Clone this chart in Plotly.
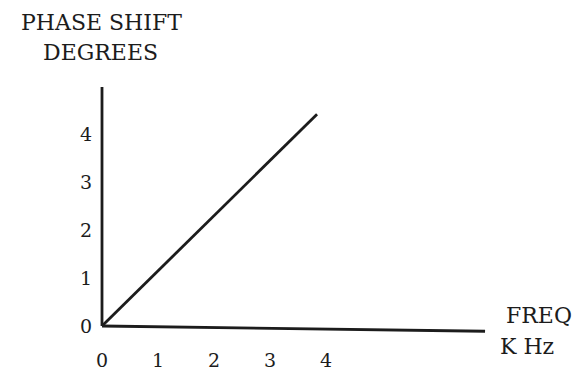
import plotly.graph_objects as go

# Phase shift vs frequency (linear-phase response)
freq_khz = [0, 3.84]
phase_deg = [0, 4.43]

x_ticks = [0, 1, 2, 3, 4]
y_ticks = [0, 1, 2, 3, 4]

W, H = 582, 371
M = dict(l=95, r=20, t=70, b=30)
INK = "#1c1c1c"
FONT = "DejaVu Serif"
X_UNIT, Y_UNIT = 56.0, 47.8      # pixels per data unit
X0_PX, Y0_PX = 102, 326          # origin position


def paper_x(px):
    return (px - M["l"]) / (W - M["l"] - M["r"])


def paper_y(py):
    return (H - M["b"] - py) / (H - M["t"] - M["b"])


fig = go.Figure()
fig.add_trace(go.Scatter(
    x=freq_khz, y=phase_deg, mode="lines",
    line=dict(color=INK, width=2.8), hoverinfo="skip", showlegend=False,
))

# hand-drawn axes
fig.add_shape(type="line", x0=0, y0=0, x1=0, y1=5.0,
              line=dict(color=INK, width=2.8))
fig.add_shape(type="line", x0=0, y0=0, x1=6.84, y1=-0.11,
              line=dict(color=INK, width=2.8))

labels = [
    ("PHASE SHIFT", 101, 23),
    ("DEGREES", 100, 53),
    ("FREQ", 539, 315),
    ("K Hz", 527, 346),
]
for text, px, py in labels:
    fig.add_annotation(
        text=text, x=paper_x(px), y=paper_y(py), xref="paper", yref="paper",
        xanchor="center", yanchor="middle", showarrow=False,
        font=dict(family=FONT, size=22, color=INK),
    )

fig.update_xaxes(
    range=[(M["l"] - X0_PX) / X_UNIT, (W - M["r"] - X0_PX) / X_UNIT],
    tickvals=x_ticks, ticktext=[str(v) for v in x_ticks],
    showgrid=False, zeroline=False, showline=False, ticks="",
    tickfont=dict(family=FONT, size=19, color=INK),
    ticklabelstandoff=6, automargin=False,
)
fig.update_yaxes(
    range=[(Y0_PX - (H - M["b"])) / Y_UNIT, (Y0_PX - M["t"]) / Y_UNIT],
    tickvals=y_ticks, ticktext=[str(v) for v in y_ticks],
    showgrid=False, zeroline=False, showline=False, ticks="",
    tickfont=dict(family=FONT, size=19, color=INK),
    ticklabelstandoff=2, automargin=False,
)

fig.update_layout(
    width=W, height=H, margin=M,
    plot_bgcolor="white", paper_bgcolor="white",
    showlegend=False,
)

fig.write_html("out.html")
